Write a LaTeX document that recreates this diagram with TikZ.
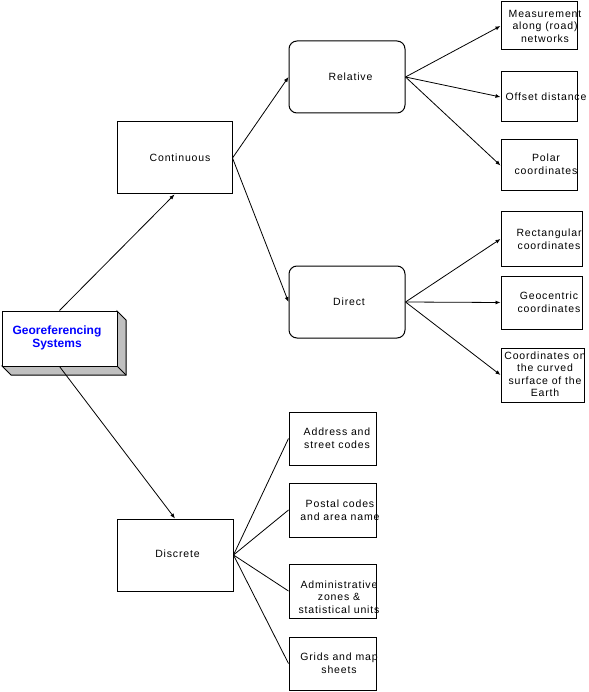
\documentclass[tikz,border=0pt]{standalone}
\usepackage{fontspec}
\usetikzlibrary{arrows.meta}
\newfontfamily\lblfont{Liberation Sans}[LetterSpace=8]
\newfontfamily\geofont{Liberation Sans}
\definecolor{shade}{RGB}{192,192,192}
\definecolor{geoblue}{RGB}{0,0,255}
\tikzset{
  boxnode/.style={draw, line width=1pt, inner sep=0pt, fill=white},
  roundnode/.style={boxnode, rounded corners=8pt},
  lbl/.style={font=\lblfont\fontsize{10.5}{12.5}\selectfont, align=center, inner sep=0pt},
  arr/.style={line width=0.8pt, -{Latex[length=5pt,width=4pt]}},
  plain/.style={line width=0.8pt}
}
\begin{document}
\begin{tikzpicture}[x=1pt,y=-1pt]
\useasboundingbox (0,0) rectangle (588,692);
% 3D georeferencing box
\filldraw[fill=shade, line width=1pt] (117,311) -- (126,320) -- (126,375) -- (11,375) -- (2,366) -- (117,366) -- cycle;
\draw[line width=1pt] (117,366) -- (126,375);
\node[boxnode, minimum width=115pt, minimum height=55pt] (geo) at (59.5,338.5) {};
\node[font=\geofont\bfseries\fontsize{12}{13}\selectfont, text=geoblue, align=center, inner sep=0pt] (geot) at (57,338) {Georeferencing\\Systems};
% level 1
\node[boxnode, minimum width=115pt, minimum height=72pt] (cont) at (174.5,158) {};
\node[lbl] (contt) at (180,158) {Continuous};
\node[boxnode, minimum width=116pt, minimum height=72pt] (disc) at (175,555) {};
\node[lbl] (disct) at (177.5,554) {Discrete};
% level 2
\node[roundnode, minimum width=116pt, minimum height=72pt] (rel) at (347,77) {};
\node[lbl] (relt) at (350.5,77) {Relative};
\node[roundnode, minimum width=116pt, minimum height=72pt] (dir) at (347,302) {};
\node[lbl] (dirt) at (349,302) {Direct};
% relative leaves
\node[boxnode, minimum width=76pt, minimum height=48pt] (meas) at (539,26) {};
\node[lbl] (meast) at (545,26) {Measurement\\along (road)\\networks};
\node[boxnode, minimum width=76pt, minimum height=50pt] (off) at (539,97) {};
\node[lbl] (offt) at (546,97) {Offset distance};
\node[boxnode, minimum width=76pt, minimum height=51pt] (pol) at (539,165.5) {};
\node[lbl] (polt) at (546,164) {Polar\\coordinates};
% direct leaves
\node[boxnode, minimum width=81pt, minimum height=54pt] (rect) at (541.5,239) {};
\node[lbl] (rectt) at (549,239) {Rectangular\\coordinates};
\node[boxnode, minimum width=81pt, minimum height=53pt] (geoc) at (541.5,302.5) {};
\node[lbl] (geoct) at (549,302) {Geocentric\\coordinates};
\node[boxnode, minimum width=83pt, minimum height=54pt] (curv) at (542.5,375) {};
\begin{scope}
\clip (501,348) rectangle (584,402);
\node[lbl] (curvt) at (545,374) {Coordinates on\\the curved\\surface of the\\Earth};
\end{scope}
% discrete leaves
\node[boxnode, minimum width=87pt, minimum height=53pt] (addr) at (332.5,438.5) {};
\node[lbl] (addrt) at (337,438) {Address and\\street codes};
\node[boxnode, minimum width=87pt, minimum height=54pt] (post) at (332.5,510) {};
\node[lbl] (postt) at (340,510) {Postal codes\\and area name};
\node[boxnode, minimum width=87pt, minimum height=54pt] (adm) at (332.5,591) {};
\node[lbl] (admt) at (339,597) {Administrative\\zones \&\\statistical units};
\node[boxnode, minimum width=87pt, minimum height=53pt] (grid) at (332.5,663.5) {};
\node[lbl] (gridt) at (339,663) {Grids and map\\sheets};
% connectors
\draw[arr] (geo.north) -- (cont.south);
\draw[arr] (geo.south) -- (disc.north);
\draw[arr] (cont.east) -- (rel.west);
\draw[arr] (cont.east) -- (dir.west);
\draw[arr] (rel.east) -- (meas.west);
\draw[arr] (rel.east) -- (off.west);
\draw[arr] (rel.east) -- (pol.west);
\draw[arr] (dir.east) -- (rect.west);
\draw[arr] (dir.east) -- (geoc.west);
\draw[arr] (dir.east) -- (curv.west);
\draw[plain] (disc.east) -- (addr.west);
\draw[plain] (disc.east) -- (post.west);
\draw[plain] (disc.east) -- (adm.west);
\draw[plain] (disc.east) -- (grid.west);
\end{tikzpicture}
\end{document}
